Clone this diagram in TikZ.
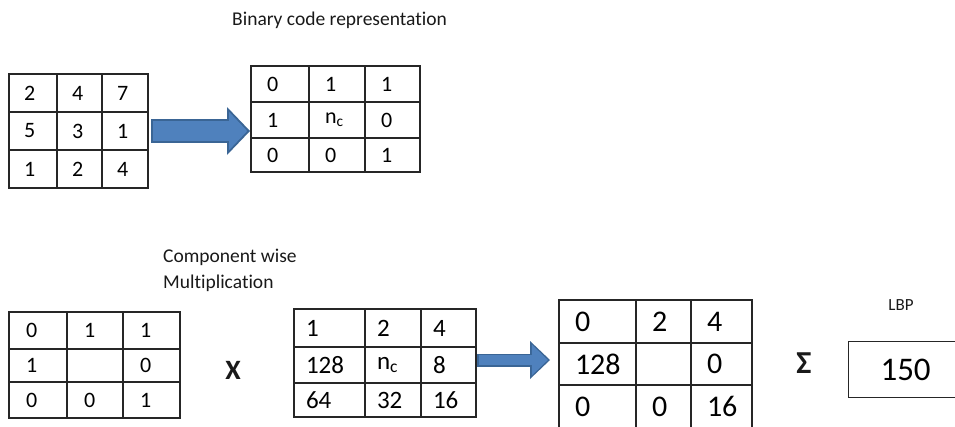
\documentclass[tikz,border=0pt]{standalone}
\usepackage{fontspec}
\setmainfont{Carlito}[Ligatures=NoCommon]
\usetikzlibrary{arrows.meta}

\definecolor{arrowfill}{HTML}{4F81BD}
\definecolor{arrowline}{HTML}{3A6595}
\definecolor{gridline}{HTML}{262626}

% 3x3 grid of cells: name, column edges, row edges, left padding, font size, entries
\newcommand{\lbpgrid}[6]{%
  \foreach \entry [count=\k from 0] in {#6} {
    \pgfmathtruncatemacro\col{mod(\k,3)}
    \pgfmathtruncatemacro\row{div(\k,3)}
    \pgfmathsetmacro\xa{{#2}[\col]}
    \pgfmathsetmacro\xb{{#2}[\col+1]}
    \pgfmathsetmacro\ya{{#3}[\row]}
    \pgfmathsetmacro\yb{{#3}[\row+1]}
    \pgfmathsetmacro\cw{\xb-\xa-2*#4}
    \pgfmathsetmacro\ch{\yb-\ya}
    \node[cell, font=\fontsize{#5}{#5}\selectfont, inner xsep=#4pt,
          text width=\cw pt, minimum height=\ch pt] (#1-\row\col) at (\xa,\ya) {\entry};
  }
}

\begin{document}
\begin{tikzpicture}[x=1pt, y=-1pt,
  cell/.style={draw=gridline, line width=1.2pt, anchor=north west, align=left,
    inner ysep=0pt, outer sep=0pt, text=black},
  label/.style={text=black!90, inner sep=0pt},
  arrowout/.style n args={3}{line width=#1, draw=arrowline,
    -{Triangle[length=#2, width=#3, line width=0pt]}},
  arrowin/.style n args={3}{line width=#1, draw=arrowfill,
    -{Triangle[length=#2, width=#3, line width=0pt]}}]
\useasboundingbox (0,0) rectangle (955,426);

% input patch and its thresholded code
\lbpgrid{g1}{9,57,102,148}{74,112,150,188}{15}{22}{2,4,7,5,3,1,1,2,4}
\lbpgrid{g2}{251,309,365,420}{66,102,138,172}{16}{22}{0,1,1,1,n\textsubscript{c},0,0,0,1}
\node[label, font=\fontsize{19.5}{19.5}\selectfont, anchor=base west] (title) at (232,25) {Binary code representation};

% code times weights
\lbpgrid{g3}{9,67,123,180}{312,349,382,418}{17}{22}{0,1,1,1,{},0,0,0,1}
\lbpgrid{g4}{294,365,421,476}{309,347,383,417}{12}{25}{1,2,4,128,n\textsubscript{c},8,64,32,16}
\lbpgrid{g5}{559,636,691,752}{300,343,385,428}{16}{30}{0,2,4,128,{},0,0,0,16}
\node[label, font=\fontsize{19.5}{19.5}\selectfont, anchor=base west] (comp) at (163,262) {Component wise};
\node[label, font=\fontsize{19.5}{19.5}\selectfont, anchor=base west] (mult) at (163,288) {Multiplication};
\node[label, font=\bfseries\fontsize{28}{28}\selectfont] (times) at (233,370) {X};
\node[label, font=\bfseries\fontsize{32}{32}\selectfont] (sigma) at (804,363) {Σ};

% result
\node[label, font=\fontsize{17}{17}\selectfont] (lbptitle) at (901,305) {LBP};
\node[draw=gridline, line width=1.2pt, anchor=north west, minimum width=114pt,
      minimum height=56pt, font=\fontsize{33}{33}\selectfont] (lbp) at (848,341) {150};

% block arrows
\coordinate (a1s) at (g1-12.east);
\coordinate (a1e) at (a1s -| g2-10.west);
\draw[arrowout={24pt}{23pt}{48pt}, shorten <=3pt, shorten >=1pt] (a1s) -- (a1e);
\draw[arrowin={20pt}{18pt}{38pt}, shorten <=5pt, shorten >=3.8pt] (a1s) -- (a1e);
\coordinate (a2s) at ([yshift=5pt]g4-12.east);
\coordinate (a2e) at (a2s -| g5-10.west);
\draw[arrowout={13pt}{20pt}{38pt}, shorten <=1pt, shorten >=9pt] (a2s) -- (a2e);
\draw[arrowin={10pt}{16pt}{31pt}, shorten <=2.5pt, shorten >=11.2pt] (a2s) -- (a2e);
\end{tikzpicture}
\end{document}
